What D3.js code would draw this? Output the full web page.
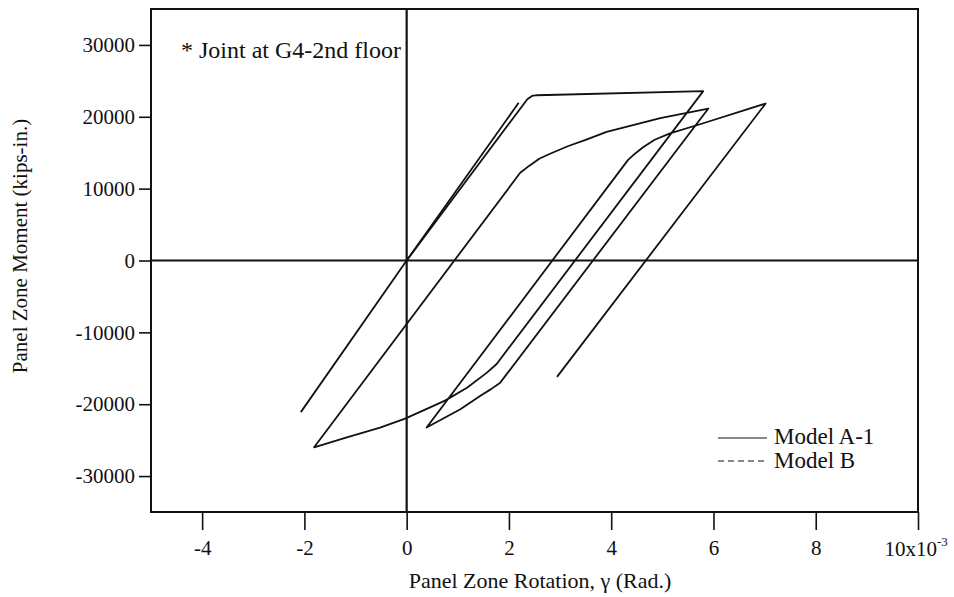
<!DOCTYPE html>
<html>
<head>
<meta charset="utf-8">
<script src="https://cdn.jsdelivr.net/npm/d3@7"></script>
<style>
  html, body { margin: 0; padding: 0; background: #fff; }
  svg { display: block; }
  text { font-family: "Liberation Serif", "Times New Roman", serif; fill: #111; }
</style>
</head>
<body>
<svg id="chart" width="954" height="597"></svg>
<script>
// ---- Data (rotation in 10^-3 rad, moment in kips-in.) ----
const xTicks = [-4, -2, 0, 2, 4, 6, 8, 10];
const yTicks = [-30000, -20000, -10000, 0, 10000, 20000, 30000];

// Model A-1 hysteresis path
const loopRot = [0, 2.36, 2.45, 2.55, 5.80,
                 1.76, 1.57, 1.18, 0.75, -0.03, -0.52, -1.17, -1.81,
                 2.22, 2.40, 2.60, 2.85, 3.15, 3.50, 3.91, 4.96, 5.90,
                 1.83, 1.65, 1.45, 1.05, 0.39,
                 4.33, 4.47, 4.63, 4.85, 5.15, 5.80, 7.02,
                 2.94];
const loopMom = [0, 22450, 22900, 23000, 23570,
                 -14400, -15600, -17700, -19500, -22000, -23250, -24600, -26000,
                 12200, 13200, 14200, 15000, 15900, 16800, 17900, 19800, 21150,
                 -17000, -17900, -18800, -20700, -23250,
                 14000, 14900, 15800, 16800, 17700, 19100, 21850,
                 -16200];

// Straight elastic branch through the origin
const elasRot = [-2.07, 0, 2.19];
const elasMom = [-21100, 0, 21940];

const legendLabels = ["Model A-1", "Model B"];

// ---- Layout ----
const svg = d3.select("#chart");
const x = d3.scaleLinear().domain([-5, 10]).range([151, 918]);
const y = d3.scaleLinear().domain([-35000, 35000]).range([512, 9]);

const ink = "#111";

// frame
svg.append("rect")
  .attr("x", x(-5)).attr("y", y(35000))
  .attr("width", x(10) - x(-5)).attr("height", y(-35000) - y(35000))
  .attr("fill", "none").attr("stroke", ink).attr("stroke-width", 2);

// zero axes
svg.append("line").attr("x1", x(-5)).attr("x2", x(10)).attr("y1", y(0)).attr("y2", y(0))
  .attr("stroke", ink).attr("stroke-width", 2.2);
svg.append("line").attr("x1", x(0)).attr("x2", x(0)).attr("y1", y(35000)).attr("y2", y(-35000))
  .attr("stroke", ink).attr("stroke-width", 2.2);

// axes
const fmtY = d => d === 0 ? "0" : (d < 0 ? "-" + Math.abs(d) : String(d));
const yAxis = d3.axisLeft(y).tickValues(yTicks).tickSize(12).tickPadding(4).tickFormat(fmtY);
const gy = svg.append("g").attr("transform", `translate(${x(-5)},0)`).call(yAxis);
gy.select(".domain").remove();
gy.selectAll(".tick line").attr("stroke", ink).attr("stroke-width", 1.6);
gy.selectAll(".tick text").attr("font-size", 21).attr("font-family", "Liberation Serif").attr("fill", ink);

const xAxis = d3.axisBottom(x).tickValues(xTicks).tickSize(18).tickPadding(10)
  .tickFormat(d => d === 10 ? "" : String(d));
const gx = svg.append("g").attr("transform", `translate(0,${y(-35000)})`).call(xAxis);
gx.select(".domain").remove();
gx.selectAll(".tick line").attr("stroke", ink).attr("stroke-width", 1.6);
gx.selectAll(".tick text").attr("font-size", 21).attr("font-family", "Liberation Serif").attr("fill", ink);

// 10x10^-3 label
svg.append("text")
  .attr("x", x(10) + 19).attr("y", y(-35000) + 44)
  .attr("text-anchor", "end").attr("font-size", 21).text("10x10");
svg.append("text").attr("x", x(10) + 19).attr("y", y(-35000) + 34)
  .attr("font-size", 13).text("-3");

// axis titles
svg.append("text").attr("x", 540).attr("y", 588).attr("text-anchor", "middle")
  .attr("font-size", 22).text("Panel Zone Rotation, γ (Rad.)");
svg.append("text").attr("transform", "translate(27,246) rotate(-90)").attr("text-anchor", "middle")
  .attr("font-size", 21).text("Panel Zone Moment (kips-in.)");

// annotation
svg.append("text").attr("x", 181).attr("y", 58).attr("font-size", 24).text("* Joint at G4-2nd floor");

// curves
const line = d3.line().x(d => x(d[0])).y(d => y(d[1]));
const loopPts = loopRot.map((r, i) => [r, loopMom[i]]);
const elasPts = elasRot.map((r, i) => [r, elasMom[i]]);

svg.append("path").datum(elasPts).attr("d", line)
  .attr("fill", "none").attr("stroke", ink).attr("stroke-width", 1.8);
svg.append("path").datum(loopPts).attr("d", line)
  .attr("fill", "none").attr("stroke", ink).attr("stroke-width", 1.8)
  .attr("stroke-linejoin", "round");

// legend
const lg = svg.append("g");
lg.append("line").attr("x1", 718).attr("x2", 767).attr("y1", 438).attr("y2", 438)
  .attr("stroke", ink).attr("stroke-width", 1.2);
lg.append("line").attr("x1", 718).attr("x2", 767).attr("y1", 461).attr("y2", 461)
  .attr("stroke", ink).attr("stroke-width", 1.2).attr("stroke-dasharray", "6,4");
lg.append("text").attr("x", 774).attr("y", 444).attr("font-size", 23).text(legendLabels[0]);
lg.append("text").attr("x", 774).attr("y", 468).attr("font-size", 23).text(legendLabels[1]);
</script>
</body>
</html>
